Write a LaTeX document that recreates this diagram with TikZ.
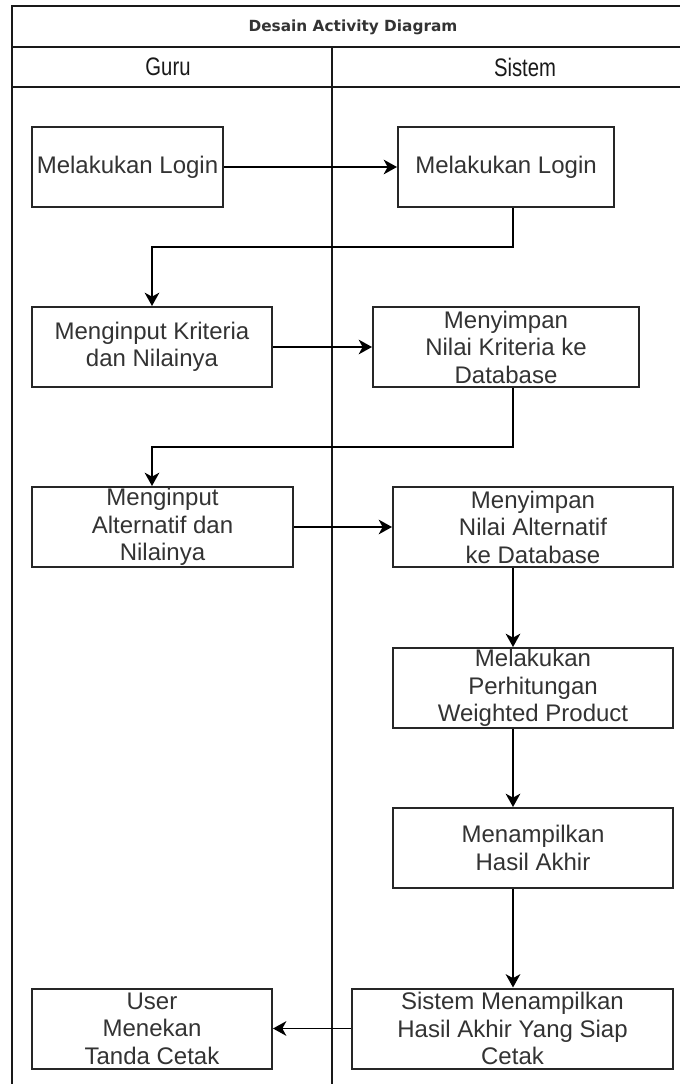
\documentclass[tikz,border=0pt]{standalone}
\usepackage{fontspec}
\setmainfont{Liberation Sans}
\newfontfamily\titlefont{DejaVu Sans}
\newfontfamily\lanefont[FakeStretch=0.8]{Liberation Sans}
\usetikzlibrary{arrows.meta}

\begin{document}
\begin{tikzpicture}[x=0.75pt,y=0.75pt,yscale=-1,xscale=1,
  act/.style={draw=black!85, line width=1.5pt, fill=white, minimum height=60pt, inner sep=0pt, align=center, text=black!80, font=\fontsize{18pt}{20.6pt}\selectfont},
  flow/.style={draw=black, line width=1.4pt, -{Stealth[length=10pt,width=11pt,inset=3pt]}},
  lane/.style={draw=black!90, line width=1.5pt}]
\useasboundingbox (0,0) rectangle (680,1084);

%Swimlane frame
\draw [lane] (680,6) -- (12,6) -- (12,1084) ;
\draw [lane] (12,47) -- (680,47) ;
\draw [lane] (12,87) -- (680,87) ;
\draw [lane] (332,47) -- (332,1084) ;

% Text Node
\draw (353,27) node [font=\titlefont\bfseries\fontsize{11.5pt}{13pt}\selectfont, text=black!80] (title) {Desain Activity Diagram};
% Text Node
\draw (168,67) node [font=\lanefont\fontsize{19pt}{20pt}\selectfont, text=black!90] (guru) {Guru};
% Text Node
\draw (525,67) node [font=\lanefont\fontsize{19pt}{20pt}\selectfont, text=black!90] (sistem) {Sistem};

%Activities
\draw (127.5,167) node [act, minimum width=143.25pt] (loginGuru) {Melakukan Login};
\draw (506,167) node [act, minimum width=162pt] (loginSistem) {Melakukan Login};
\draw (152,347) node [act, minimum width=180pt] (inputKriteria) {Menginput Kriteria\\dan Nilainya};
\draw (506,347) node [act, minimum width=199.5pt] (simpanKriteria) {Menyimpan\\Nilai Kriteria ke\\Database};
\draw (162.5,527) node [act, minimum width=195.75pt] (inputAlternatif) {Menginput\\Alternatif dan\\Nilainya};
\draw (533,527) node [act, minimum width=210pt] (simpanAlternatif) {Menyimpan\\Nilai Alternatif\\ke Database};
\draw (533,688) node [act, minimum width=210pt] (hitungWP) {Melakukan\\Perhitungan\\Weighted Product};
\draw (533,848) node [act, minimum width=210pt] (tampilHasil) {Menampilkan\\Hasil Akhir};
\draw (512.5,1028.5) node [act, minimum width=240.75pt] (tampilCetak) {Sistem Menampilkan\\Hasil Akhir Yang Siap\\Cetak};
\draw (152,1028.5) node [act, minimum width=180pt] (tekanCetak) {User\\Menekan\\Tanda Cetak};

%Bend points
\coordinate (spine) at (513,0);
\coordinate (elbowA) at (513,247);
\coordinate (elbowB) at (513,447);
\coordinate (elbowC) at (152,447);

%Connectors
\draw [flow] (loginGuru) -- (loginSistem) ;
\draw [flow] (loginSistem.south -| elbowA) -- (elbowA) -| (inputKriteria.north) ;
\draw [flow] (inputKriteria) -- (simpanKriteria) ;
\draw [flow] (simpanKriteria.south -| elbowB) -- (elbowB) -- (elbowC) -- (inputAlternatif.north -| elbowC) ;
\draw [flow] (inputAlternatif) -- (simpanAlternatif) ;
\draw [flow] (simpanAlternatif.south -| spine) -- (hitungWP.north -| spine) ;
\draw [flow] (hitungWP.south -| spine) -- (tampilHasil.north -| spine) ;
\draw [flow] (tampilHasil.south -| spine) -- (tampilCetak.north -| spine) ;
\draw [flow] (tampilCetak) -- (tekanCetak) ;

\end{tikzpicture}
\end{document}
